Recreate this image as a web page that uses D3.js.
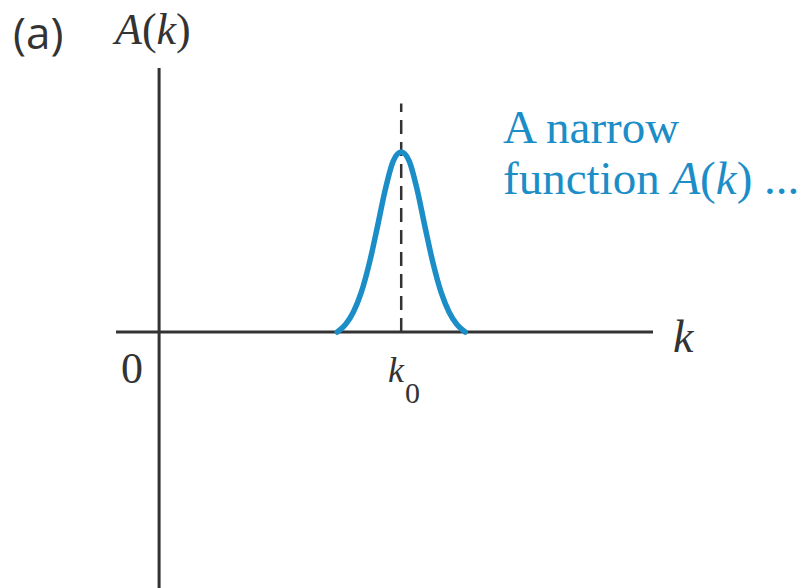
<!DOCTYPE html>
<html>
<head>
<meta charset="utf-8">
<script src="https://cdn.jsdelivr.net/npm/d3@7"></script>
<style>
  html, body { margin: 0; padding: 0; background: #fff; }
  svg { display: block; }
</style>
</head>
<body>
<svg id="chart" width="808" height="588"></svg>
<script>
// Wave-number samples of the narrow peak centred on k0 = 1
const kValues = [0.736, 0.769, 0.802, 0.835, 0.868, 0.901, 0.934, 0.967, 1.0,
                 1.033, 1.066, 1.099, 1.132, 1.165, 1.198, 1.231, 1.264];
// Amplitude A(k) at each sample (peak normalised to 1)
const aValues = [0.0, 0.04, 0.11, 0.22, 0.38, 0.58, 0.79, 0.95, 1.0,
                 0.95, 0.79, 0.58, 0.38, 0.22, 0.11, 0.04, 0.0];
const k0 = 1;
const kDomain = [-0.178, 2.04];
const aDomain = [-1.422, 1.467];

const svg = d3.select("#chart");
const x = d3.scaleLinear().domain(kDomain).range([116, 653]);
const y = d3.scaleLinear().domain(aDomain).range([588, 68]);

const axisColor = "#333";
const blue = "#1b8dc7";

// horizontal k axis
svg.append("line")
  .attr("x1", x(kDomain[0])).attr("x2", x(kDomain[1]))
  .attr("y1", y(0)).attr("y2", y(0))
  .attr("stroke", axisColor).attr("stroke-width", 3);

// vertical A axis
svg.append("line")
  .attr("x1", x(0)).attr("x2", x(0))
  .attr("y1", y(aDomain[0])).attr("y2", y(aDomain[1]))
  .attr("stroke", axisColor).attr("stroke-width", 3);

// dashed marker at k0
svg.append("line")
  .attr("x1", x(k0)).attr("x2", x(k0))
  .attr("y1", y(0)).attr("y2", y(1.27))
  .attr("stroke", axisColor).attr("stroke-width", 2.5)
  .attr("stroke-dasharray", "14,8");

// the narrow function A(k)
const line = d3.line()
  .x((d, i) => x(kValues[i]))
  .y(d => y(d))
  .curve(d3.curveMonotoneX);
svg.append("path")
  .attr("d", line(aValues))
  .attr("fill", "none")
  .attr("stroke", blue)
  .attr("stroke-width", 5.5)
  .attr("stroke-linecap", "round");

const serif = "'Liberation Serif', 'Times New Roman', serif";

// panel tag and axis titles
svg.append("text").attr("x", 13).attr("y", 49)
  .attr("font-family", "'Open Sans', 'DejaVu Sans', sans-serif")
  .attr("font-size", 44).attr("fill", "#333")
  .text("(a)");

const aTitle = svg.append("text").attr("x", 115).attr("y", 44)
  .attr("font-family", serif).attr("font-size", 44).attr("fill", "#333");
aTitle.append("tspan").attr("font-style", "italic").text("A");
aTitle.append("tspan").text("(");
aTitle.append("tspan").attr("font-style", "italic").text("k");
aTitle.append("tspan").text(")");

svg.append("text").attr("x", 673).attr("y", 352)
  .attr("font-family", serif).attr("font-size", 46).attr("font-style", "italic")
  .attr("fill", "#333").text("k");

svg.append("text").attr("x", 121).attr("y", 383)
  .attr("font-family", serif).attr("font-size", 44)
  .attr("fill", "#333").text("0");

const k0Label = svg.append("text").attr("x", 388).attr("y", 382)
  .attr("font-family", serif).attr("font-size", 36).attr("fill", "#333");
k0Label.append("tspan").attr("font-style", "italic").text("k");
k0Label.append("tspan").attr("font-size", 30).attr("dx", 1).attr("dy", 21).text("0");

// annotation
const note = svg.append("g")
  .attr("font-family", serif).attr("font-size", 47).attr("fill", blue);
note.append("text").attr("x", 503).attr("y", 143).text("A narrow");
const l2 = note.append("text").attr("x", 503).attr("y", 194);
l2.append("tspan").text("function ");
l2.append("tspan").attr("font-style", "italic").text("A");
l2.append("tspan").text("(");
l2.append("tspan").attr("font-style", "italic").text("k");
l2.append("tspan").text(") ...");
</script>
</body>
</html>
